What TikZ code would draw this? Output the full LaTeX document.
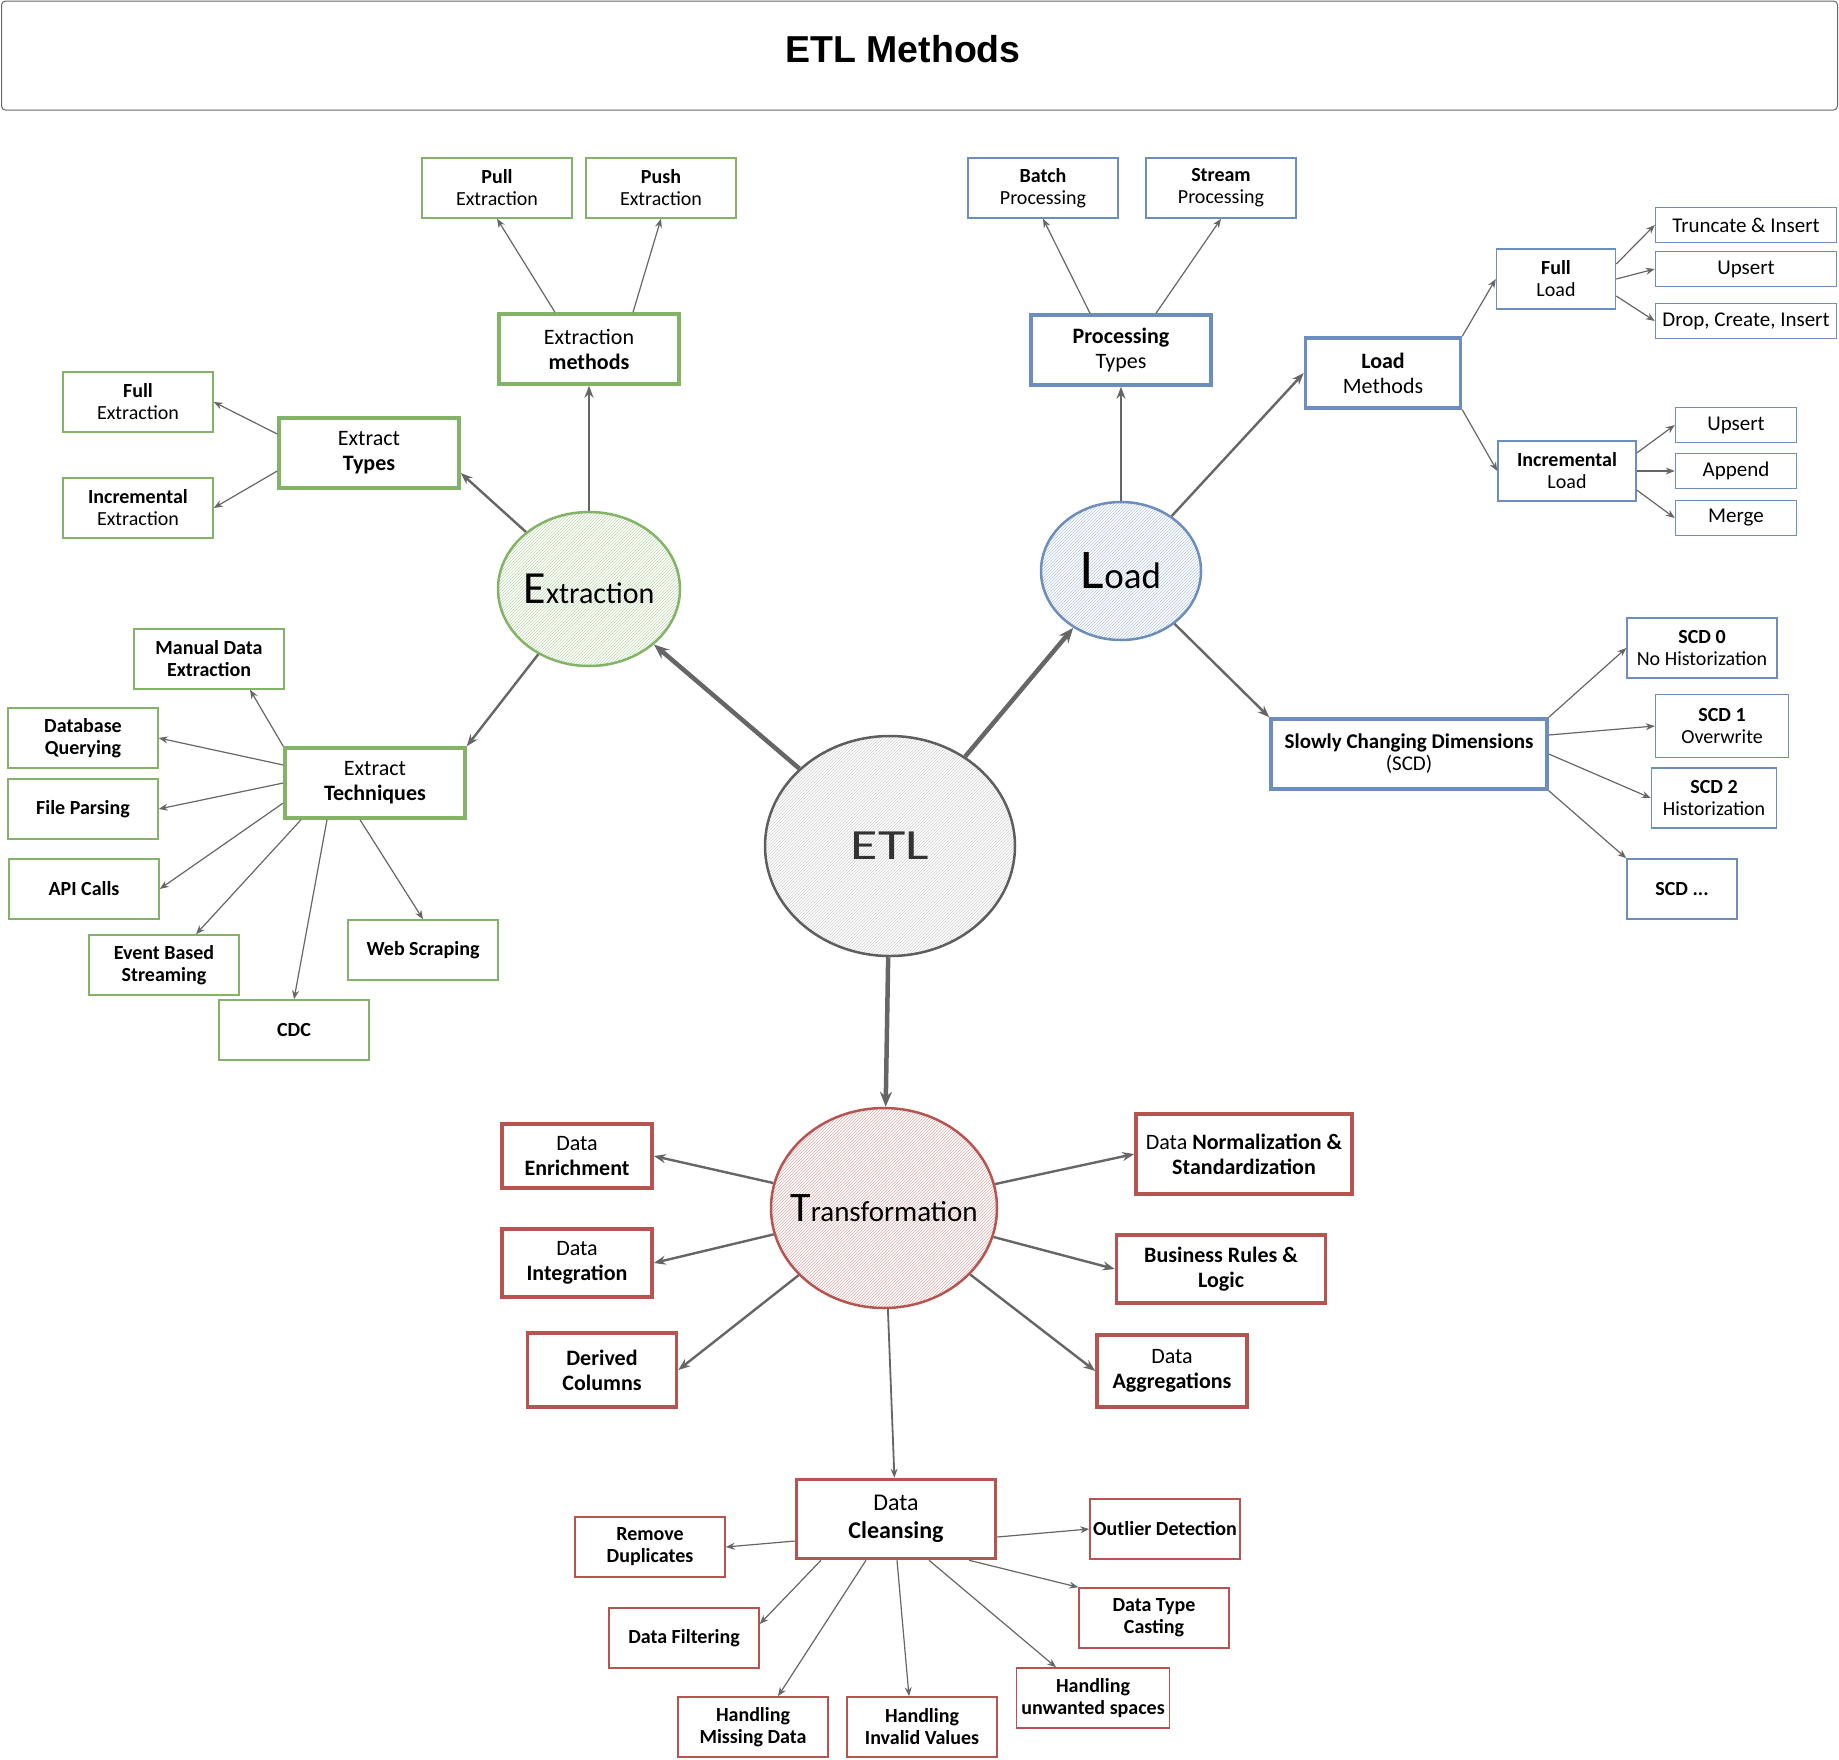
\documentclass[tikz,border=0pt]{standalone}
\usepackage{fontspec}
\setmainfont{Carlito}
\newfontfamily\titlefont{Liberation Sans}
\newfontfamily\widefont[FakeStretch=1.3]{Carlito}
\usetikzlibrary{shapes.geometric,arrows.meta,patterns}
\definecolor{grn}{HTML}{82B366}
\definecolor{blu}{HTML}{6C8EBF}
\definecolor{rd}{HTML}{B85450}
\definecolor{linegray}{HTML}{666666}
\definecolor{etlgray}{HTML}{5E5E5E}
\definecolor{etltext}{HTML}{333333}
\begin{document}
\begin{tikzpicture}[x=1pt,y=-1pt,
    box/.style={rectangle,draw,align=center,inner sep=2pt,line width=1.5pt,
        minimum width=150pt,minimum height=60pt,font=\fontsize{20}{22}\selectfont},
    bigbox/.style={box,line width=3.5pt,minimum width=180pt,minimum height=70pt,
        font=\fontsize{22}{25}\selectfont},
    slim/.style={box,minimum width=181pt,minimum height=35pt,font=\fontsize{21}{22}\selectfont},
    hub/.style={ellipse,draw,line width=2.5pt,inner sep=0pt},
    link/.style={draw=linegray,line width=1.2pt,-{Stealth[length=9pt,width=7pt]}},
    midlink/.style={link,line width=2.4pt,-{Stealth[length=12pt,width=9pt]}},
    toplink/.style={link,line width=4.5pt,-{Stealth[length=15pt,width=12pt]}}]
    \useasboundingbox (0,0) rectangle (1839,1759);
    % title
    \node[draw=linegray,line width=1pt,rounded corners=4pt,minimum width=1836pt,minimum height=109pt]
        (titlebox) at (919.5,55.5) {};
    \node[font=\titlefont\bfseries\fontsize{37.5}{40}\selectfont] (title) at (903,49) {ETL Methods};
    % hubs
    \node[hub,draw=etlgray,pattern=north east lines,pattern color=linegray!30,
        minimum width=250pt,minimum height=220pt] (etl) at (890,846)
        {\color{etltext}\widefont\fontsize{43}{43}\selectfont ETL};
    \node[hub,draw=grn,pattern=north east lines,pattern color=grn!55,inner xsep=-12pt,
        minimum width=182pt,minimum height=154pt] (extraction) at (589,589)
        {{\fontsize{46}{46}\selectfont E}{\fontsize{30}{30}\selectfont xtraction}};
    \node[hub,draw=blu,pattern=north east lines,pattern color=blu!50,
        minimum width=160pt,minimum height=138pt] (load) at (1121,571)
        {{\fontsize{56}{56}\selectfont L}{\fontsize{37}{37}\selectfont oad}};
    \node[hub,draw=rd,pattern=north east lines,pattern color=rd!50,inner xsep=-25pt,
        minimum width=226pt,minimum height=200pt] (transform) at (884,1208)
        {{\fontsize{42}{42}\selectfont T}{\fontsize{29}{29}\selectfont ransformation}};
    % extraction
    \node[box,draw=grn] (pull) at (497,188) {\textbf{Pull}\\Extraction};
    \node[box,draw=grn] (push) at (661,188) {\textbf{Push}\\Extraction};
    \node[bigbox,draw=grn] (extm) at (589,349) {Extraction\\\textbf{methods}};
    \node[bigbox,draw=grn] (extt) at (369,453) {Extract\\\textbf{Types}};
    \node[box,draw=grn] (fullext) at (138,402) {\textbf{Full}\\Extraction};
    \node[box,draw=grn] (incext) at (138,508) {\textbf{Incremental}\\Extraction};
    \node[box,draw=grn] (manual) at (209,659) {\textbf{Manual Data}\\\textbf{Extraction}};
    \node[bigbox,draw=grn] (tech) at (375,783) {Extract\\\textbf{Techniques}};
    \node[box,draw=grn] (dbq) at (83,738) {\textbf{Database}\\\textbf{Querying}};
    \node[box,draw=grn] (file) at (83,809) {\textbf{File Parsing}};
    \node[box,draw=grn] (api) at (84,889) {\textbf{API Calls}};
    \node[box,draw=grn] (event) at (164,965) {\textbf{Event Based}\\\textbf{Streaming}};
    \node[box,draw=grn] (web) at (423,950) {\textbf{Web Scraping}};
    \node[box,draw=grn] (cdc) at (294,1030) {\textbf{CDC}};
    % load
    \node[box,draw=blu] (batch) at (1043,188) {\textbf{Batch}\\Processing};
    \node[box,draw=blu] (stream) at (1221,188) {\textbf{Stream}\\Processing};
    \node[bigbox,draw=blu] (proc) at (1121,350) {\textbf{Processing}\\Types};
    \node[bigbox,draw=blu,minimum width=155pt] (lmeth) at (1383,373) {\textbf{Load}\\Methods};
    \node[box,draw=blu,minimum width=119pt] (fullload) at (1556,279) {\textbf{Full}\\Load};
    \node[slim,draw=blu] (trunc) at (1746,225) {Truncate \& Insert};
    \node[slim,draw=blu] (upsertf) at (1746,269) {Upsert};
    \node[slim,draw=blu] (drop) at (1746,321) {Drop, Create, Insert};
    \node[box,draw=blu,minimum width=138pt] (incload) at (1567,471) {\textbf{Incremental}\\Load};
    \node[slim,draw=blu,minimum width=121pt] (upserti) at (1736,425) {Upsert};
    \node[slim,draw=blu,minimum width=121pt] (append) at (1736,471) {Append};
    \node[slim,draw=blu,minimum width=121pt] (merge) at (1736,518) {Merge};
    \node[bigbox,draw=blu,minimum width=276pt,font=\fontsize{21}{22}\selectfont] (scd) at (1409,754)
        {\textbf{Slowly Changing Dimensions}\\(SCD)};
    \node[box,draw=blu] (scd0) at (1702,648) {\textbf{SCD 0}\\No Historization};
    \node[box,draw=blu,minimum width=133pt,minimum height=63pt] (scd1) at (1722,726) {\textbf{SCD 1}\\Overwrite};
    \node[box,draw=blu,minimum width=125pt] (scd2) at (1714,798) {\textbf{SCD 2}\\Historization};
    \node[box,draw=blu,minimum width=110pt] (scdx) at (1682,889) {\textbf{SCD ...}};
    % transformation
    \node[bigbox,draw=rd,minimum width=150pt,minimum height=64pt] (enrich) at (577,1156) {Data\\\textbf{Enrichment}};
    \node[bigbox,draw=rd,minimum width=150pt,minimum height=68pt] (integ) at (577,1263) {Data\\\textbf{Integration}};
    \node[bigbox,draw=rd,minimum width=149pt,minimum height=74pt] (derived) at (602,1370) {\textbf{Derived}\\\textbf{Columns}};
    \node[bigbox,draw=rd,minimum width=216pt,minimum height=80pt] (norm) at (1244,1154)
        {Data \textbf{Normalization \&}\\\textbf{Standardization}};
    \node[bigbox,draw=rd,minimum width=209pt,minimum height=68pt] (business) at (1221,1269)
        {\textbf{Business Rules \&}\\\textbf{Logic}};
    \node[bigbox,draw=rd,minimum width=150pt,minimum height=72pt] (aggr) at (1172,1371) {Data\\\textbf{Aggregations}};
    \node[bigbox,draw=rd,minimum width=199pt,minimum height=79pt,font=\fontsize{24}{28}\selectfont]
        (clean) at (896,1519) {Data\\\textbf{Cleansing}};
    \node[box,draw=rd] (outlier) at (1165,1529) {\textbf{Outlier Detection}};
    \node[box,draw=rd] (remove) at (650,1547) {\textbf{Remove}\\\textbf{Duplicates}};
    \node[box,draw=rd] (casting) at (1154,1618) {\textbf{Data Type}\\\textbf{Casting}};
    \node[box,draw=rd] (filter) at (684,1638) {\textbf{Data Filtering}};
    \node[box,draw=rd,minimum width=153pt] (unwanted) at (1093,1698) {\textbf{Handling}\\\textbf{unwanted spaces}};
    \node[box,draw=rd] (missing) at (753,1727) {\textbf{Handling}\\\textbf{Missing Data}};
    \node[box,draw=rd] (invalid) at (922,1727) {\textbf{Handling}\\\textbf{Invalid Values}};
    % connectors
    \draw[toplink] (etl) -- (extraction);
    \draw[toplink] (etl) -- (load);
    \draw[toplink] (etl) -- (transform);
    \draw[midlink] (extraction) -- (extm);
    \draw[midlink] (extraction) -- ([yshift=-20pt]extt.east);
    \draw[midlink] (extraction) -- (tech.north east);
    \draw[link] ([xshift=-34pt]extm.north) -- (pull.south);
    \draw[link] ([xshift=44pt]extm.north) -- (push.south);
    \draw[link] ([yshift=19pt]extt.west) -- (fullext.east);
    \draw[link] ([yshift=-18pt]extt.west) -- (incext.east);
    \draw[link] (tech.north west) -- ([xshift=41pt]manual.south);
    \draw[link] ([yshift=18pt]tech.west) -- (dbq.east);
    \draw[link] (tech.west) -- (file.east);
    \draw[link] ([yshift=-20pt]tech.west) -- (api.east);
    \draw[link] ([xshift=-74pt]tech.south) -- ([xshift=32pt]event.north);
    \draw[link] ([xshift=-48pt]tech.south) -- (cdc.north);
    \draw[link] ([xshift=-15pt]tech.south) -- (web.north);
    \draw[midlink] (load) -- (proc);
    \draw[midlink] (load) -- (lmeth.west);
    \draw[midlink] (load) -- (scd.north west);
    \draw[link] ([xshift=-31pt]proc.north) -- (batch.south);
    \draw[link] ([xshift=35pt]proc.north) -- (stream.south);
    \draw[link] (lmeth.north east) -- (fullload.west);
    \draw[link] (lmeth.south east) -- (incload.west);
    \draw[link] ([yshift=15pt]fullload.east) -- (trunc.west);
    \draw[link] (fullload.east) -- (upsertf.west);
    \draw[link] ([yshift=-17pt]fullload.east) -- (drop.west);
    \draw[link] ([yshift=18pt]incload.east) -- (upserti.west);
    \draw[link] (incload.east) -- (append.west);
    \draw[link] ([yshift=-19pt]incload.east) -- (merge.west);
    \draw[link] (scd.north east) -- (scd0.west);
    \draw[link] ([yshift=19pt]scd.east) -- (scd1.west);
    \draw[link] (scd.east) -- (scd2.west);
    \draw[link] (scd.south east) -- (scdx.north west);
    \foreach \n in {enrich,integ,derived}
        \draw[midlink] (transform) -- (\n.east);
    \foreach \n in {norm,business,aggr}
        \draw[midlink] (transform) -- (\n.west);
    \draw[link,line width=1.8pt] (transform) -- (clean);
    \draw[link] ([yshift=-22pt]clean.west) -- (remove.east);
    \draw[link] ([xshift=-75pt]clean.south) -- ([yshift=14pt]filter.east);
    \draw[link] ([xshift=-30pt]clean.south) -- ([xshift=25pt]missing.north);
    \draw[link] ([xshift=1pt]clean.south) -- ([xshift=-13pt]invalid.north);
    \draw[link] ([xshift=33pt]clean.south) -- ([xshift=-37pt]unwanted.north);
    \draw[link] ([xshift=73pt]clean.south) -- (casting.north west);
    \draw[link] ([yshift=-18pt]clean.east) -- (outlier.west);
\end{tikzpicture}
\end{document}
